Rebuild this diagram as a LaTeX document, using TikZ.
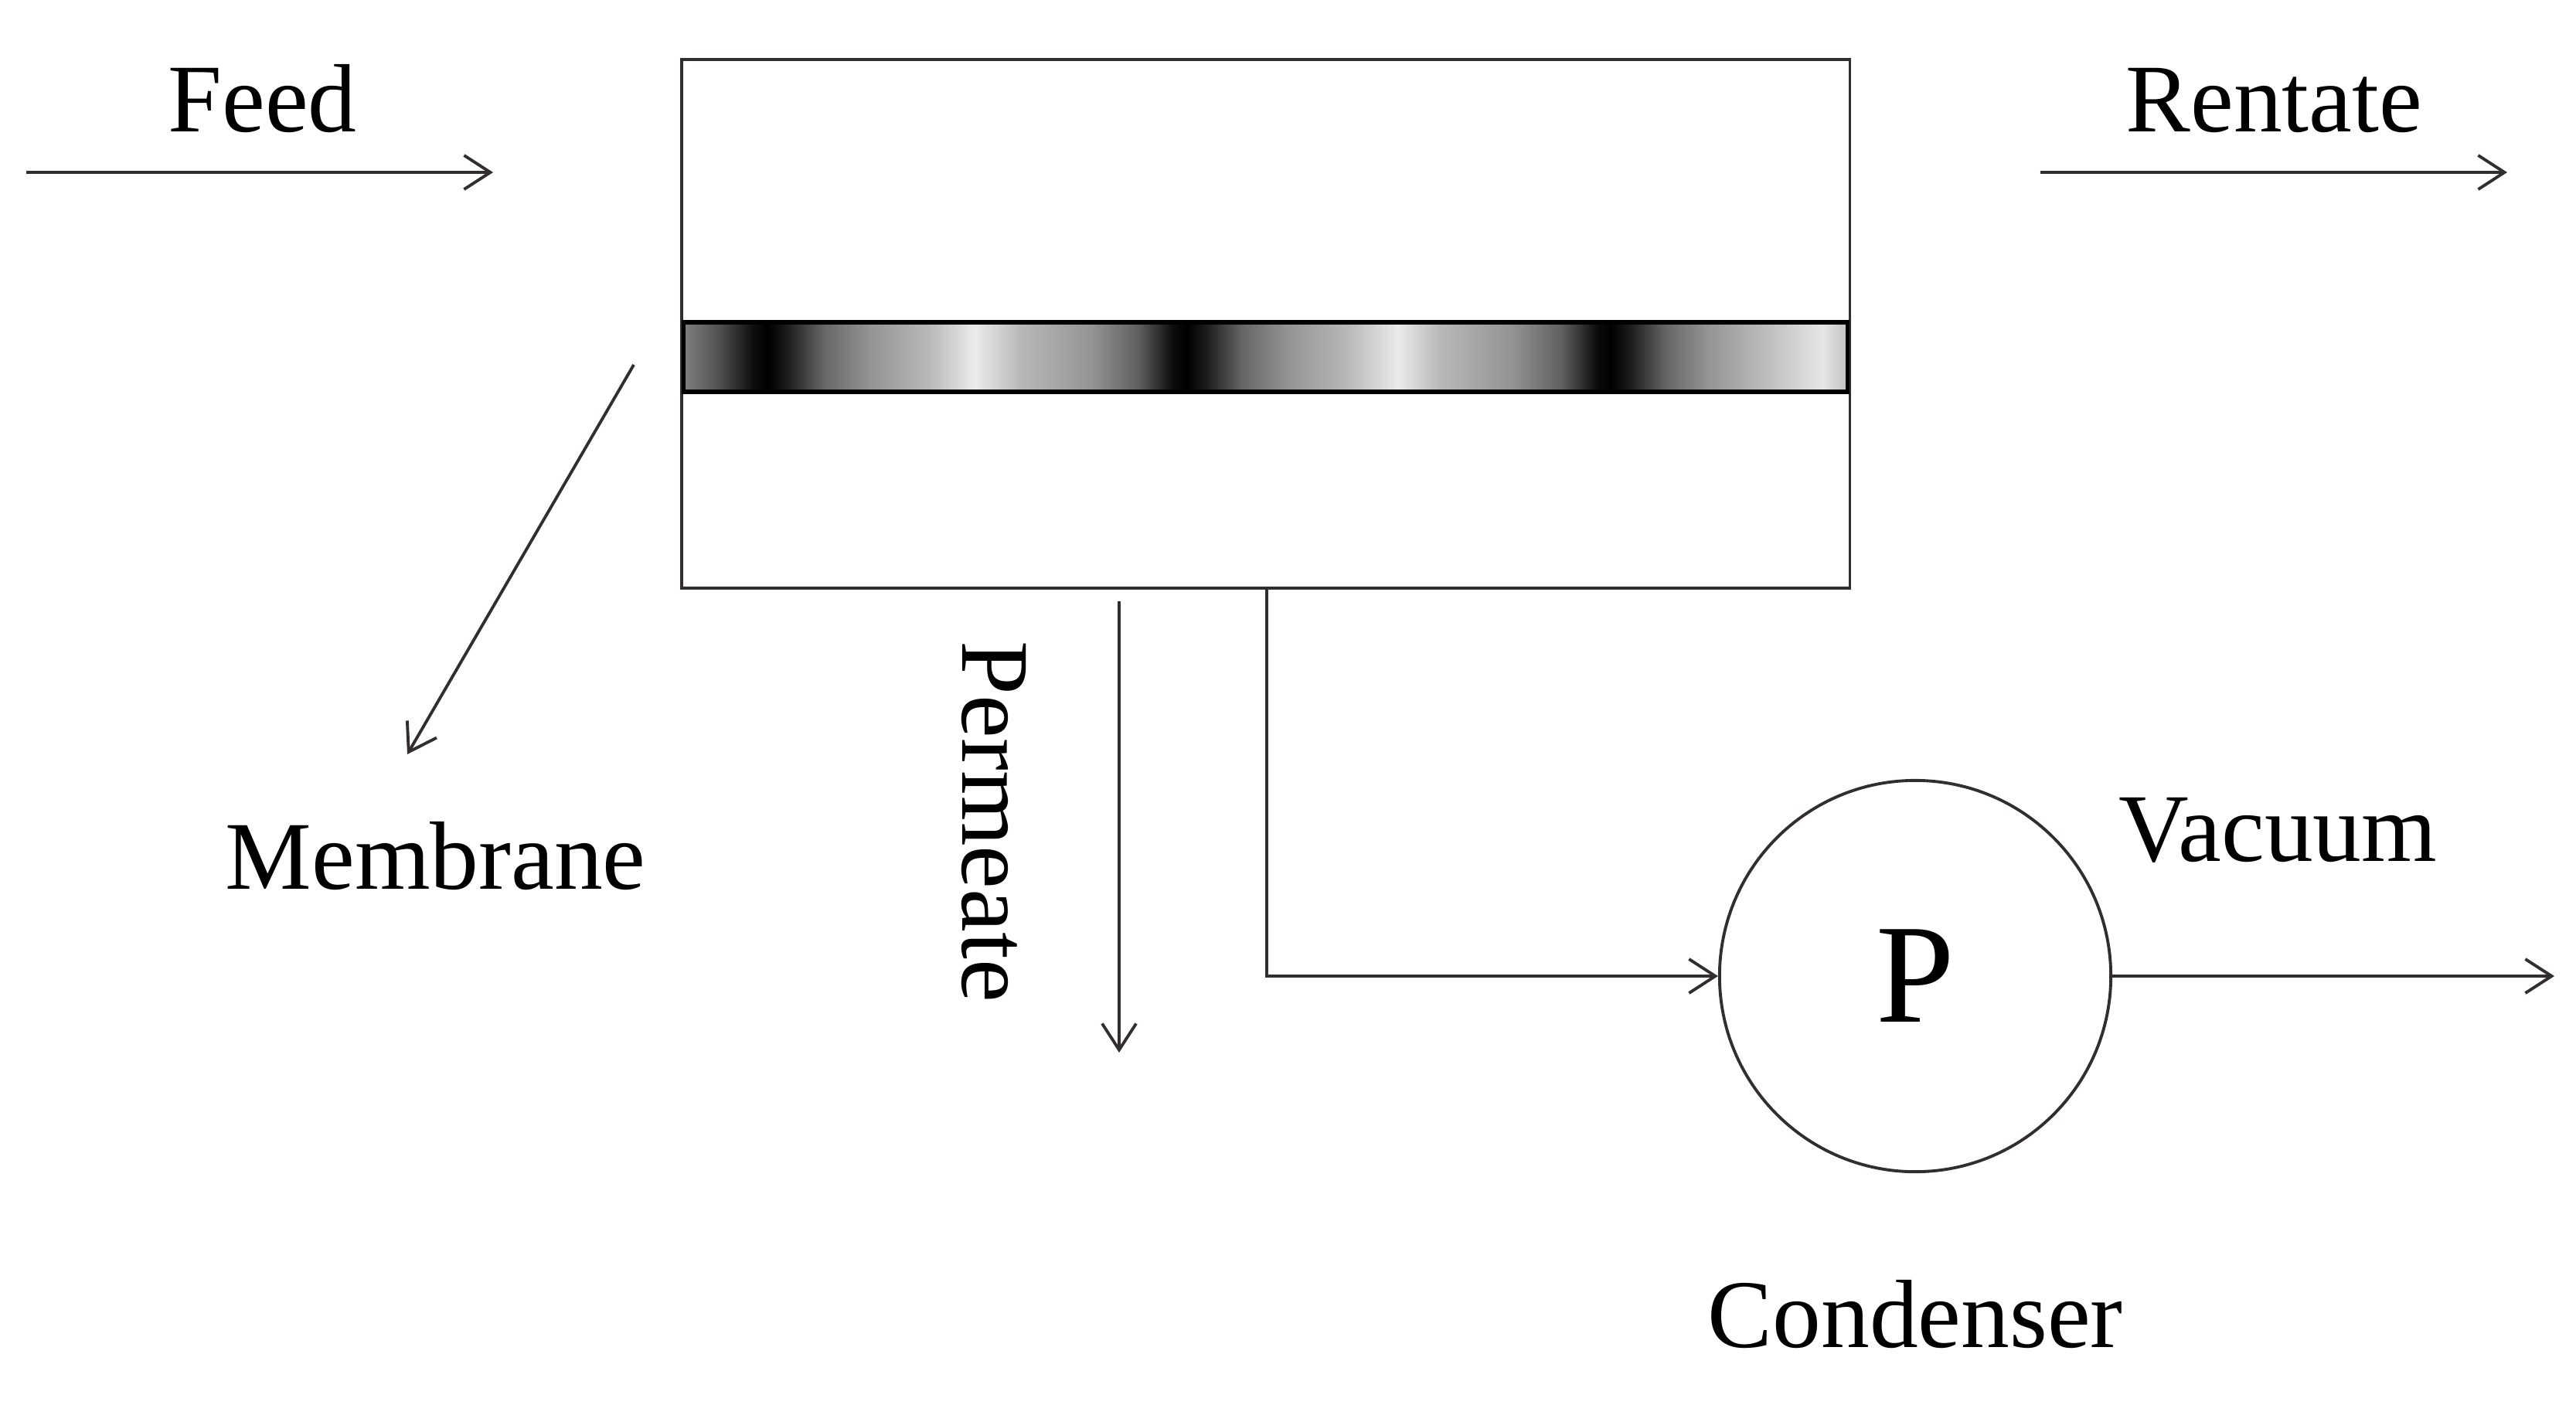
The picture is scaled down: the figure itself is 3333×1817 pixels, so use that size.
\documentclass[tikz,border=0pt]{standalone}
\usepackage{fontspec}
\setmainfont{Liberation Serif}
\usetikzlibrary{arrows.meta,positioning}
\definecolor{lineink}{RGB}{50,46,48}
\pgfdeclarehorizontalshading{membraneshade}{100bp}{color(0bp)=(black!50); color(25bp)=(black!50); color(26.5bp)=(black!68); color(28bp)=(black!95); color(28.6bp)=(black); color(29.4bp)=(black!90); color(31bp)=(black!60); color(33bp)=(black!42); color(35.5bp)=(black!28); color(37.5bp)=(black!8); color(39.5bp)=(black!28); color(42.5bp)=(black!42); color(44.5bp)=(black!62); color(46bp)=(black!95); color(46.6bp)=(black); color(47.4bp)=(black!90); color(49bp)=(black!60); color(51bp)=(black!42); color(53.5bp)=(black!28); color(55.7bp)=(black!8); color(57.5bp)=(black!28); color(60.5bp)=(black!42); color(62.7bp)=(black!62); color(64.2bp)=(black!95); color(64.8bp)=(black); color(65.6bp)=(black!90); color(67.2bp)=(black!60); color(69bp)=(black!42); color(71.5bp)=(black!26); color(73.9bp)=(black!10); color(75bp)=(black!24); color(100bp)=(black!24)}

\begin{document}
\begin{tikzpicture}[x=0.01cm, y=-0.01cm, font=\fontsize{35.7}{40}\selectfont,
  tag/.style={anchor=base west, inner sep=0pt},
  arr/.style={-{Straight Barb[length=0.34cm, width=0.44cm]}, line width=1.1pt, draw=lineink}]
\useasboundingbox (0,0) rectangle (3333,1817);
\node[draw=lineink, line width=1.1pt, minimum width=15.11cm, minimum height=6.84cm, inner sep=0pt] (tank) at (1637.5,419) {};
\node[draw=black, line width=1.6pt, shading=membraneshade, minimum width=15.05cm, minimum height=0.9cm, inner sep=0pt] (membrane) at (1637.5,462) {};
\node[circle, draw=lineink, line width=1.1pt, minimum size=5.06cm, inner sep=0pt, font=\fontsize{52}{56}\selectfont] (pump) at (2478,1263) {P};

\node[tag] (feedtag) at (217,170) {Feed};
\node[tag] (rentatetag) at (2750,170) {Rentate};
\node[tag] (membranetag) at (291,1150) {Membrane};
\node[tag, rotate=-90] (permeatetag) at (1245,829) {Permeate};
\node[tag] (vacuumtag) at (2741,1114) {Vacuum};
\node[tag] (condensertag) at (2209,1743) {Condenser};

\coordinate (feedin) at (34,223);
\coordinate (feedout) at (638,223);
\coordinate (rentatein) at (2640,223);
\coordinate (rentateout) at (3244,223);
\coordinate (memstart) at (820,472);
\coordinate (memend) at (527,976);
\coordinate (permin) at (1448,778);
\coordinate (permout) at (1448,1362);
\coordinate (drain) at (1639,761);
\coordinate (vacout) at (3305,1263);

\draw[arr] (feedin) -- (feedout);
\draw[arr] (rentatein) -- (rentateout);
\draw[arr] (memstart) -- (memend);
\draw[arr] (permin) -- (permout);
\draw[arr] (drain) |- (pump.west);
\draw[arr] (pump.east) -- (vacout);
\end{tikzpicture}
\end{document}
